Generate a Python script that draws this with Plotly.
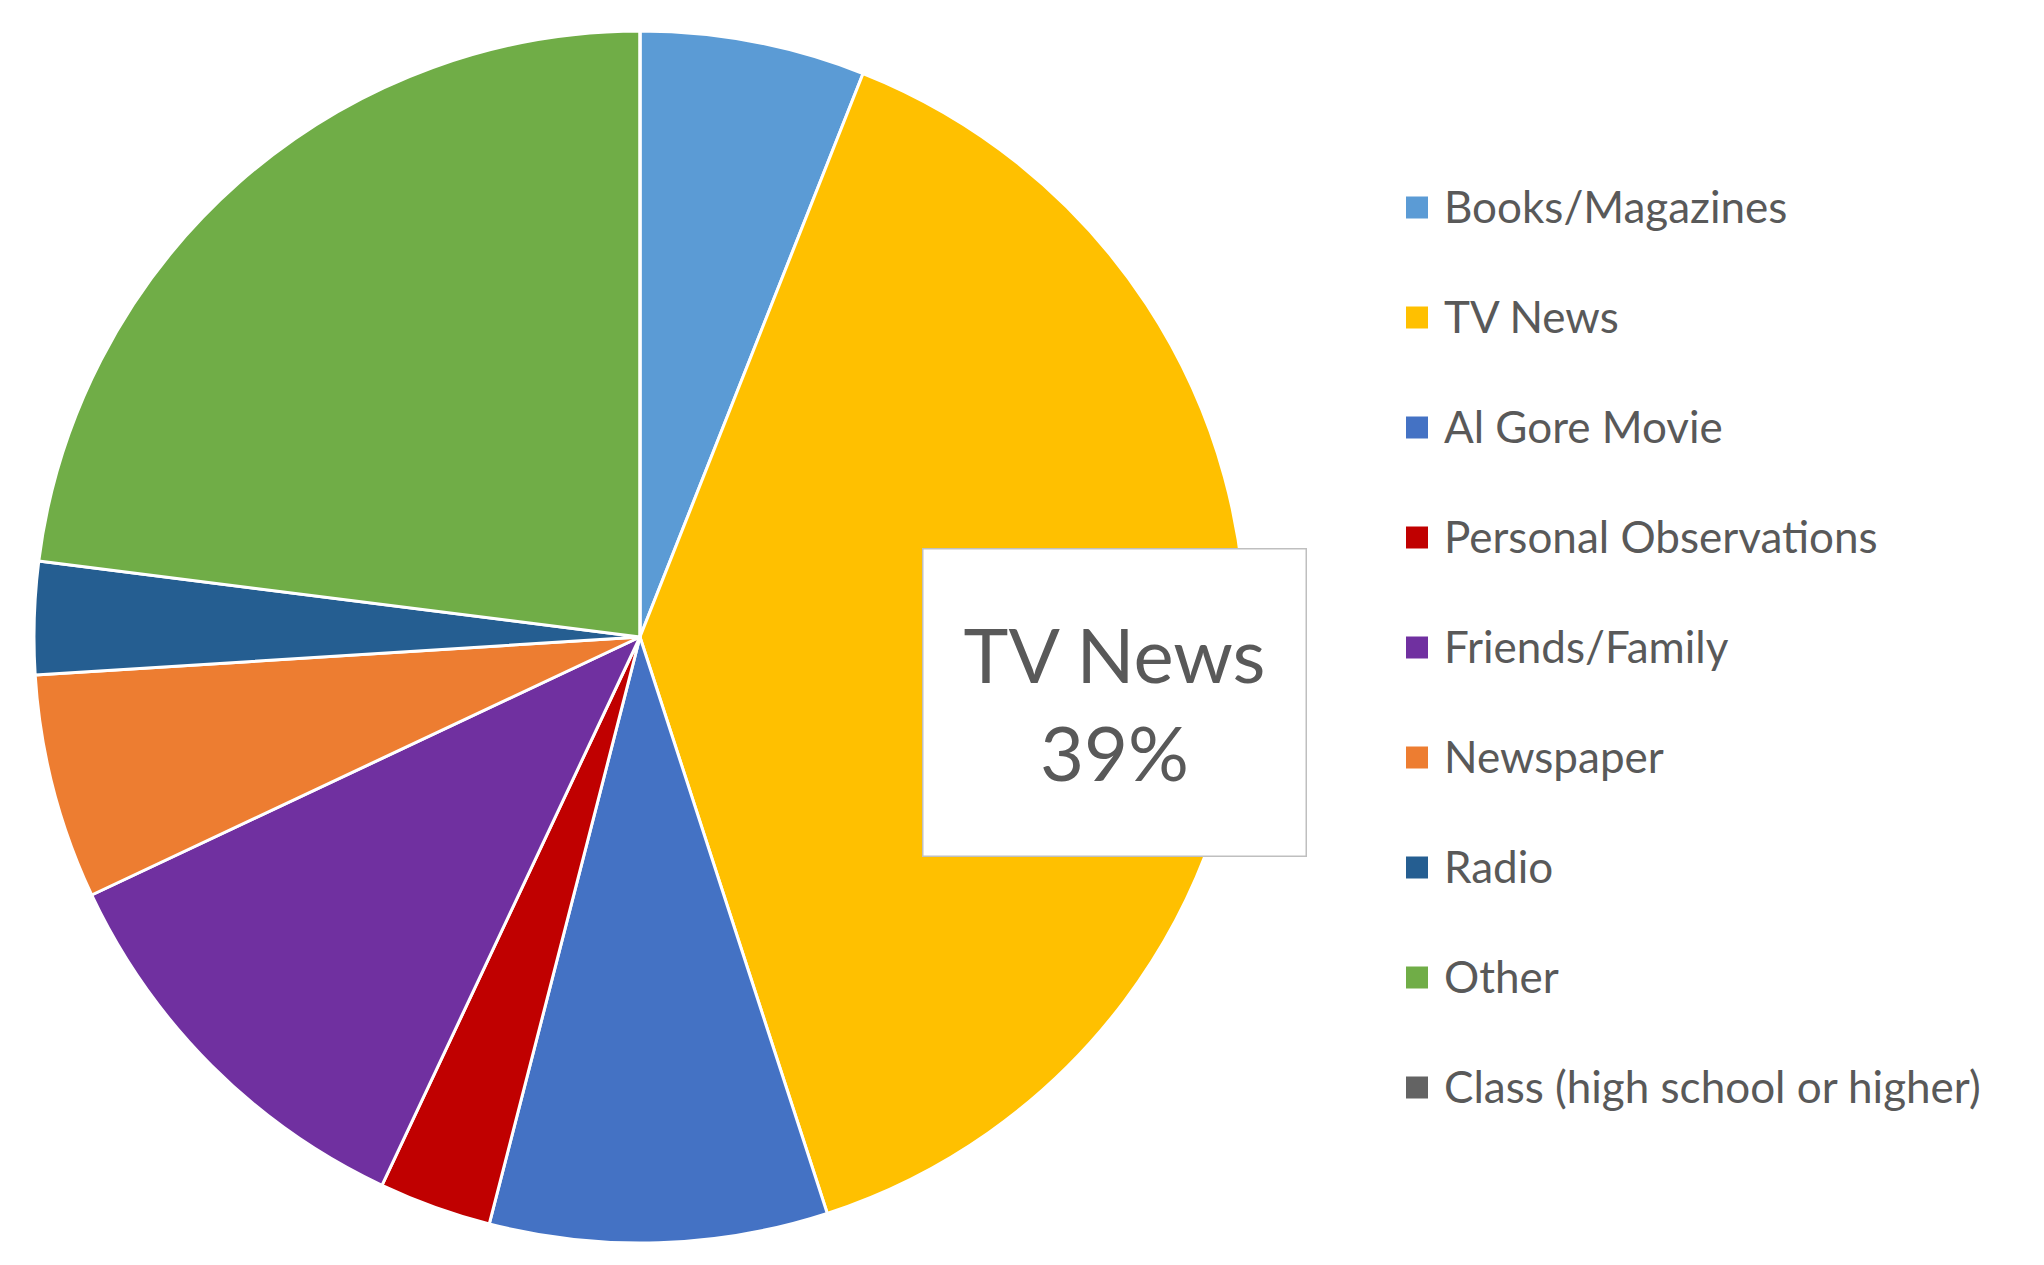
import plotly.graph_objects as go

# Where people get their information on climate change (share of responses, %)
labels = [
    "Books/Magazines",
    "TV News",
    "Al Gore Movie",
    "Personal Observations",
    "Friends/Family",
    "Newspaper",
    "Radio",
    "Other",
    "Class (high school or higher)",
]
values = [6, 39, 9, 3, 11, 6, 3, 23, 0]
colors = [
    "#5B9BD5", "#FFC000", "#4472C4", "#C00000", "#7030A0",
    "#ED7D31", "#255E91", "#70AD47", "#636363",
]

W, H = 2044, 1265
TEXT = "#595959"
FONT = "Lato"

fig = go.Figure()
fig.add_trace(go.Pie(
    labels=labels,
    values=values,
    marker=dict(colors=colors, line=dict(color="white", width=3)),
    sort=False,
    direction="clockwise",
    rotation=0,
    textinfo="none",
    hoverinfo="label+percent",
    showlegend=False,
    domain=dict(x=[0.0166, 0.6096], y=[0.0174, 0.9755]),
))

# Callout for the largest slice
total = sum(values)
hi = values.index(max(values))
fig.add_annotation(
    xref="paper", yref="paper",
    x=1114.5 / W, y=1 - 702.5 / H,
    xanchor="center", yanchor="middle",
    text=f"{labels[hi]}<br>{round(values[hi] / total * 100)}%",
    font=dict(family=FONT, size=76, color=TEXT),
    align="center",
    showarrow=False,
    bgcolor="white",
    bordercolor="#BFBFBF",
    borderwidth=1.5,
    borderpad=0,
    width=382,
    height=306,
)

# Legend: colour square + label for each category
top, step = 207.5, 110.0
for i, (lab, col) in enumerate(zip(labels, colors)):
    yc = top + i * step
    fig.add_shape(
        type="rect", xref="paper", yref="paper",
        x0=1406 / W, x1=1428 / W,
        y0=1 - (yc + 11) / H, y1=1 - (yc - 11) / H,
        fillcolor=col, line=dict(width=0),
    )
    fig.add_annotation(
        xref="paper", yref="paper",
        x=1442 / W, y=1 - (yc - 1.5) / H,
        xanchor="left", yanchor="middle",
        text=lab, showarrow=False,
        font=dict(family=FONT, size=44, color=TEXT),
    )

fig.update_layout(
    width=W, height=H,
    margin=dict(l=0, r=0, t=0, b=0),
    paper_bgcolor="white",
    plot_bgcolor="white",
)

fig.write_html("out.html")
